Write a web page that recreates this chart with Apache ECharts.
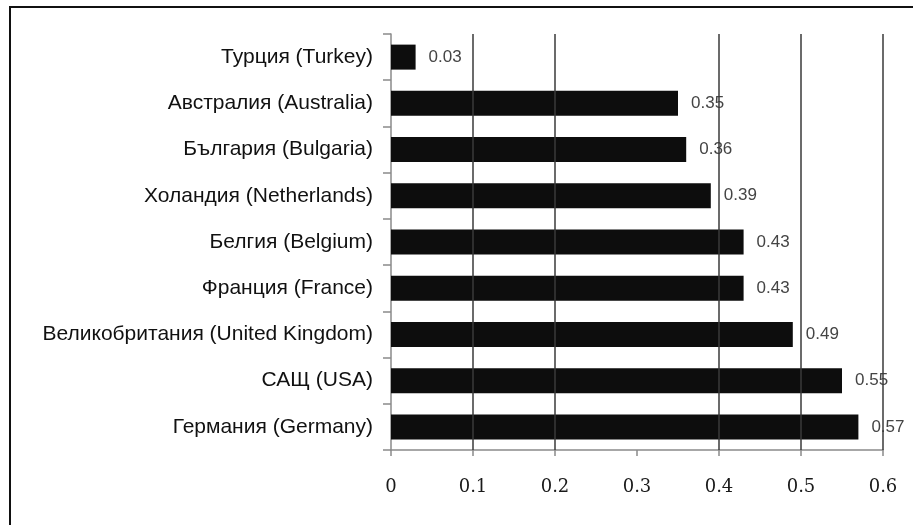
<!DOCTYPE html>
<html>
<head>
<meta charset="utf-8">
<script src="https://cdn.jsdelivr.net/npm/echarts@6/dist/echarts.min.js"></script>
<style>
  html, body { margin: 0; padding: 0; background: #fff; }
  #chart { width: 913px; height: 525px; }
</style>
</head>
<body>
<div id="chart"></div>
<script>
// Countries, listed top to bottom
const countries = [
  'Турция (Turkey)',
  'Австралия (Australia)',
  'България (Bulgaria)',
  'Холандия (Netherlands)',
  'Белгия (Belgium)',
  'Франция (France)',
  'Великобритания (United Kingdom)',
  'САЩ (USA)',
  'Германия (Germany)'
];
const values = [0.03, 0.35, 0.36, 0.39, 0.43, 0.43, 0.49, 0.55, 0.57];
const valueLabels = ['0.03', '0.35', '0.36', '0.39', '0.43', '0.43', '0.49', '0.55', '0.57'];
const axisMin = 0;
const axisMax = 0.6;
const axisStep = 0.1;
// vertical grid lines that are drawn (none at 0.3)
const gridLineValues = [0.1, 0.2, 0.4, 0.5, 0.6];

const chart = echarts.init(document.getElementById('chart'), null, { renderer: 'canvas' });

chart.setOption({
  animation: false,
  backgroundColor: '#ffffff',
  graphic: [{
    type: 'rect',
    shape: { x: 10, y: 7, width: 960, height: 600 },
    style: { fill: 'none', stroke: '#111', lineWidth: 2 },
    silent: true
  }],
  grid: { left: 391, right: 30, top: 34, bottom: 75, containLabel: false },
  xAxis: {
    type: 'value',
    min: axisMin,
    max: axisMax,
    interval: axisStep,
    axisLine: { show: true, lineStyle: { color: '#8a8a8a', width: 1.5 } },
    axisTick: { show: true, length: 6, lineStyle: { color: '#8a8a8a', width: 1.5 } },
    axisLabel: {
      margin: 28,
      fontFamily: 'DejaVu Serif',
      fontSize: 18,
      color: '#1a1a1a',
      formatter: function (v) { return String(Math.round(v * 10) / 10); }
    },
    splitLine: { show: false }
  },
  yAxis: {
    type: 'category',
    data: countries,
    inverse: true,
    axisLine: { show: true, lineStyle: { color: '#8a8a8a', width: 1.5 } },
    axisTick: { show: true, length: 8, lineStyle: { color: '#8a8a8a', width: 1.5 } },
    axisLabel: {
      margin: 18,
      fontFamily: 'Liberation Sans',
      fontSize: 21,
      color: '#111'
    },
    splitLine: { show: false }
  },
  series: [{
    type: 'bar',
    data: values,
    barWidth: 25,
    z: 2,
    itemStyle: { color: '#0d0d0d' },
    label: {
      show: true,
      position: 'right',
      distance: 13,
      fontFamily: 'Liberation Sans',
      fontSize: 17,
      color: '#444',
      formatter: function (p) { return valueLabels[p.dataIndex]; }
    },
    markLine: {
      silent: true,
      symbol: 'none',
      label: { show: false },
      lineStyle: { color: '#3a3a3a', width: 1.5, type: 'solid' },
      data: gridLineValues.map(function (v) { return { xAxis: v }; })
    }
  }]
});
</script>
</body>
</html>
